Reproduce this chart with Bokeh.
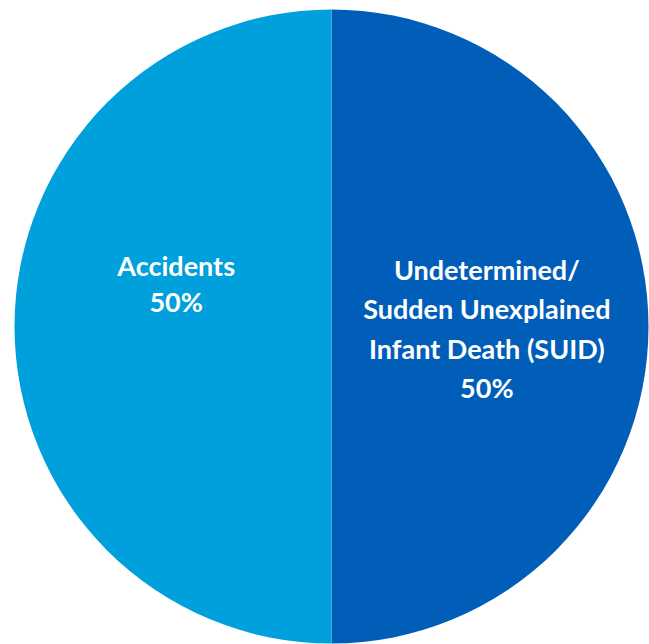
import numpy as np
from bokeh.plotting import figure
from bokeh.models import Range1d, ColumnDataSource, CDSView, IndexFilter
from bokeh.core.properties import value
from bokeh.embed import file_html
from bokeh.resources import INLINE

categories = ["Undetermined/\nSudden Unexplained\nInfant Death (SUID)", "Accidents"]
values = [50, 50]
colors = ["#005EB8", "#00A0DC"]

R = 317
vals = np.array(values, dtype=float)
frac = vals / vals.sum()
cum = np.concatenate([[0], np.cumsum(frac)])
end_angle = np.pi / 2 - cum[:-1] * 2 * np.pi
start_angle = np.pi / 2 - cum[1:] * 2 * np.pi
mid = (start_angle + end_angle) / 2
labels = [f"{c}\n{int(v)}%" for c, v in zip(categories, values)]
lx = 0.49 * R * np.cos(mid)
ly = 0.49 * R * np.sin(mid)

src = ColumnDataSource(dict(start=start_angle, end=end_angle, color=colors,
                            label=labels, lx=lx, ly=ly,
                            yoff=[2, -43]))

p = figure(width=649, height=644, output_backend="svg", toolbar_location=None,
           x_range=Range1d(-331, 318), y_range=Range1d(-318, 326),
           min_border=0)
p.axis.visible = False
p.grid.visible = False
p.outline_line_color = None
p.background_fill_color = "white"

p.wedge(x=0, y=0, radius=R, start_angle="start", end_angle="end",
        fill_color="color", line_color=None, source=src)
for idx, lh in [(0, 1.2), (1, 1.1)]:
    p.text(x="lx", y="ly", text="label", y_offset="yoff", source=src,
           view=CDSView(filter=IndexFilter([idx])),
           text_color="white", text_font=value("Lato"), text_font_style="bold",
           text_font_size="27px", text_align="center", text_baseline="middle",
           text_line_height=lh)

open("out.html", "w").write(file_html(p, INLINE))
